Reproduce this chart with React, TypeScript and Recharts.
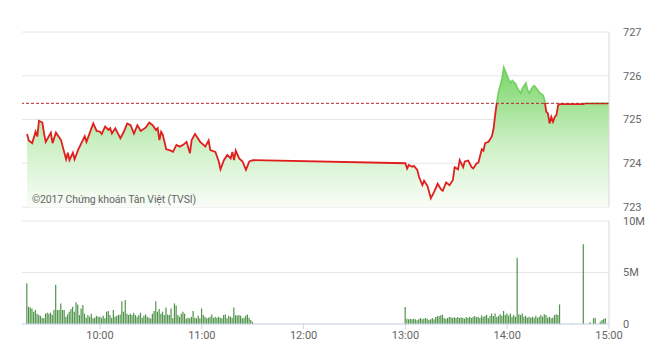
import React from "react";
import {
  ComposedChart,
  Area,
  Bar,
  XAxis,
  YAxis,
  CartesianGrid,
  ReferenceLine,
} from "recharts";

// ─── Data (minutes since midnight) ────────────────────────────────────────────
const PRICE_TIMES = [
  557, 558, 560, 562, 563, 564, 566, 567, 568, 571, 572, 574, 577, 578, 580, 581,
  582, 584, 585, 587, 589, 591, 592, 594, 596, 598, 600, 601, 603, 605, 606, 607,
  609, 612, 614, 616, 618, 620, 622, 624, 627, 629, 631, 633, 634, 635, 636, 637,
  639, 641, 643, 645, 647, 649, 651, 653, 654, 656, 657, 659, 661, 662, 664, 665,
  668, 670, 671, 673, 675, 677, 678, 679, 680, 682, 684, 686, 688, 690,
  780, 781, 782, 784, 785, 787, 788, 790, 791, 793, 795, 797, 799, 801, 802, 804,
  806, 808, 809, 811, 812, 814, 815, 817, 819, 820, 822, 823, 825, 826, 827, 829,
  831, 832, 833, 834, 835, 837, 838, 839, 841, 842, 843, 845, 846, 848, 849, 851,
  852, 853, 855, 856, 858, 859, 861, 862, 863, 864, 865, 866, 867, 868, 869, 870,
  871, 885, 886, 900,
];
const PRICE_VALUES = [
  724.67, 724.52, 724.46, 724.72, 724.61, 724.97, 724.93, 724.68, 724.49, 724.7, 724.46, 724.7, 724.53, 724.38, 724.09, 724.24,
  724.07, 724.24, 724.09, 724.3, 724.46, 724.62, 724.49, 724.7, 724.91, 724.74, 724.72, 724.67, 724.84, 724.76, 724.8, 724.68,
  724.8, 724.57, 724.72, 724.91, 724.87, 724.68, 724.87, 724.74, 724.82, 724.93, 724.87, 724.76, 724.8, 724.53, 724.72, 724.65,
  724.32, 724.3, 724.26, 724.42, 724.38, 724.42, 724.49, 724.23, 724.53, 724.67, 724.61, 724.49, 724.42, 724.38, 724.52, 724.3,
  724.26, 724.04, 723.86, 724.07, 724.19, 724.11, 724.26, 724.07, 724.29, 724.11, 724.04, 723.85, 724.04, 724.07,
  724.0, 723.88, 723.96, 723.92, 723.94, 723.85, 723.69, 723.5, 723.6, 723.48, 723.2, 723.35, 723.53, 723.4, 723.37, 723.56,
  723.5, 723.62, 723.91, 723.86, 724.07, 723.91, 724.04, 724.06, 723.91, 723.88, 724.0, 724.01, 724.32, 724.29, 724.46, 724.49,
  724.62, 724.8, 725.14, 725.41, 725.64, 725.94, 726.19, 726.09, 725.9, 725.84, 725.89, 725.81, 725.71, 725.6, 725.71, 725.83,
  725.67, 725.6, 725.74, 725.77, 725.67, 725.61, 725.56, 725.45, 725.18, 725.14, 724.91, 725.06, 724.95, 725.06, 725.1, 725.33,
  725.35, 725.35, 725.37, 725.37,
];
const REF_PRICE = 725.37;
const PRICE_TICKS = [723, 724, 725, 726, 727];

// volume in millions, one bar per minute
const VOL_MORNING_START = 557;
const VOL_MORNING = [
  3.95, 1.68, 1.6, 1.5, 1.2, 1.36, 1.0, 0.87, 0.8, 0.6, 0.55, 1.0, 1.1, 1.0, 1.1, 0.87,
  1.36, 3.8, 1.36, 1.36, 2.0, 1.36, 1.36, 0.7, 0.93, 1.2, 1.46, 1.68, 1.2, 2.1, 1.9, 0.87,
  1.5, 1.84, 1.0, 0.6, 0.87, 0.7, 1.0, 0.55, 0.6, 0.8, 0.7, 0.7, 0.6, 0.8, 0.55, 1.2,
  1.26, 0.87, 0.6, 1.36, 0.7, 0.8, 0.87, 0.93, 2.2, 1.2, 2.33, 1.0, 0.87, 1.0, 0.87, 1.1,
  0.87, 0.7,
  0.87, 1.1, 0.6, 0.8, 0.93, 0.7, 0.6, 0.55, 1.0, 1.26, 2.2, 1.2, 1.46, 1.0, 1.2, 0.87,
  1.6, 0.93, 0.87, 1.5, 0.55, 2.0, 1.8, 0.87, 0.7, 1.0, 1.2, 1.0, 0.5, 0.6, 0.55, 0.7,
  1.26, 0.6, 0.55, 0.8, 0.55, 1.5, 0.87, 0.7, 0.55, 0.6, 0.7, 0.93, 0.6, 0.7, 0.6, 0.7,
  0.6, 0.55, 0.87, 0.93, 0.55, 0.8, 0.7, 0.6, 1.6, 0.87, 0.8, 0.87, 0.8, 0.55, 0.6, 0.8,
  0.93, 0.6, 0.4, 0.2,
];
const VOL_AFTERNOON_START = 780;
const VOL_AFTERNOON = [
  1.65, 0.52, 0.45, 0.52, 0.45, 0.52, 0.45, 0.36, 0.45, 0.58, 0.45, 0.52, 0.58, 0.52, 0.4, 0.45,
  0.58, 0.45, 0.68, 0.74, 0.78, 0.84, 0.9, 0.58, 0.52, 0.58, 0.68, 0.65, 0.58, 0.65, 0.58, 0.68,
  0.58, 0.65, 0.58, 0.52, 0.68, 0.58, 0.71, 0.58, 0.68, 0.78, 0.65, 0.71, 0.58, 0.84, 0.68, 0.78,
  0.9, 0.58, 0.78, 1.03, 0.78, 1.03, 0.68, 0.78,
  0.94, 0.81, 1.26, 0.87, 1.03, 0.81, 1.03, 0.71, 0.87, 0.71, 6.44,
  0.94, 0.87, 1.03, 0.71, 0.81, 0.61, 0.71, 0.61, 0.71, 0.61, 0.81, 0.61, 0.71, 0.87, 0.71, 0.94,
  0.87, 0.61, 0.71, 0.55, 0.61, 0.87, 0.94, 0.87, 1.9,
];
const VOL_LATE_TIMES = [879, 885, 889, 891, 892, 895, 896, 897, 898];
const VOL_LATE = [0.05, 7.74, 0.16, 0.55, 0.61, 0.23, 0.39, 0.48, 0.55];
const VOL_TICKS = [0, 5, 10];

const TIME_TICKS = [600, 660, 720, 780, 840, 900];
const TIME_DOMAIN = [554, 900];

// ─── Build rows ───────────────────────────────────────────────────────────────
const priceData = PRICE_TIMES.map((t, i) => ({ t, price: PRICE_VALUES[i] }));

const volumeData = [
  ...VOL_MORNING.map((v, i) => ({ t: VOL_MORNING_START + i, vol: v })),
  ...VOL_AFTERNOON.map((v, i) => ({ t: VOL_AFTERNOON_START + i, vol: v })),
  ...VOL_LATE.map((v, i) => ({ t: VOL_LATE_TIMES[i], vol: v })),
];

const maxP = Math.max(...PRICE_VALUES);
const minP = Math.min(...PRICE_VALUES);
const refOffset = (maxP - REF_PRICE) / (maxP - minP);

const fmtTime = (m: number) => `${Math.floor(m / 60)}:${String(m % 60).padStart(2, "0")}`;
const fmtVol = (v: number) => (v === 0 ? "0" : `${v}M`);

const FONT = "Roboto, Arial, sans-serif";
const tickStyle = { fontSize: 11, fill: "#666666", fontFamily: FONT };

const App: React.FC = () => {
  return (
    <div
      style={{
        position: "absolute",
        left: 0,
        top: 0,
        width: 660,
        height: 356,
        background: "#fff",
        fontFamily: FONT,
      }}
    >
      {/* Price */}
      <div style={{ position: "absolute", left: 0, top: 0 }}>
        <ComposedChart
          width={660}
          height={214}
          data={priceData}
          margin={{ top: 32, right: 0, left: 22, bottom: 7 }}
        >
          <defs>
            <linearGradient id="priceFill" x1="0" y1="0" x2="0" y2="1">
              <stop offset="0%" stopColor="#7ad669" />
              <stop offset="55%" stopColor="#cdf0c5" />
              <stop offset="100%" stopColor="#f8fdf7" />
            </linearGradient>
            <linearGradient id="priceStroke" x1="0" y1="0" x2="0" y2="1">
              <stop offset="0" stopColor="#74d163" />
              <stop offset={refOffset} stopColor="#74d163" />
              <stop offset={refOffset} stopColor="#e01e1e" />
              <stop offset="1" stopColor="#e01e1e" />
            </linearGradient>
          </defs>
          <CartesianGrid stroke="#e6e6e6" vertical={false} />
          <XAxis dataKey="t" type="number" domain={TIME_DOMAIN} ticks={TIME_TICKS} hide />
          <YAxis
            orientation="right"
            width={51}
            domain={[723, 727]}
            ticks={PRICE_TICKS}
            axisLine={{ stroke: "#d8d8d8" }}
            tickLine={false}
            tickMargin={8}
            tick={tickStyle}
          />
          <Area
            type="linear"
            dataKey="price"
            stroke="url(#priceStroke)"
            strokeWidth={1.8}
            fill="url(#priceFill)"
            fillOpacity={1}
            dot={false}
            activeDot={false}
            isAnimationActive={false}
          />
          <ReferenceLine y={REF_PRICE} stroke="#b3262a" strokeDasharray="3 2" strokeWidth={1} />
        </ComposedChart>
        <div
          style={{
            position: "absolute",
            left: 32,
            top: 193,
            fontSize: 10.5,
            letterSpacing: -0.15,
            color: "#666",
            whiteSpace: "nowrap",
          }}
        >
          ©2017 Chứng khoán Tân Việt (TVSI)
        </div>
      </div>

      {/* Volume */}
      <div style={{ position: "absolute", left: 0, top: 214 }}>
        <ComposedChart
          width={660}
          height={142}
          data={volumeData}
          margin={{ top: 7, right: 0, left: 22, bottom: 0 }}
        >
          <CartesianGrid stroke="#e6e6e6" vertical={false} />
          <XAxis
            dataKey="t"
            type="number"
            domain={TIME_DOMAIN}
            ticks={TIME_TICKS}
            tickFormatter={fmtTime}
            height={32}
            axisLine={{ stroke: "#ccd6eb" }}
            tickLine={{ stroke: "#ccd6eb" }}
            tickSize={5}
            tick={tickStyle}
          />
          <YAxis
            orientation="right"
            width={51}
            domain={[0, 10]}
            ticks={VOL_TICKS}
            tickFormatter={fmtVol}
            axisLine={{ stroke: "#d8d8d8" }}
            tickLine={false}
            tickMargin={8}
            tick={tickStyle}
          />
          <Bar dataKey="vol" fill="#4f944b" barSize={1.2} isAnimationActive={false} />
        </ComposedChart>
      </div>
    </div>
  );
};

export default App;
